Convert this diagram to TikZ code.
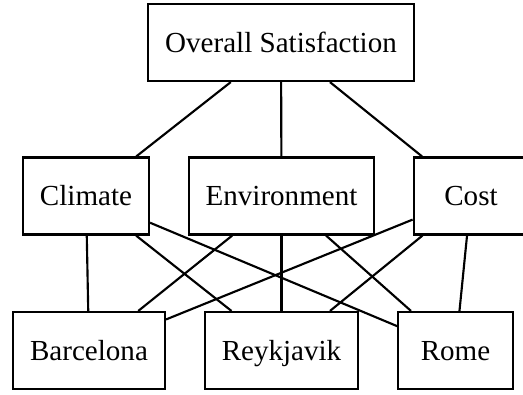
\documentclass[tikz,border=0pt]{standalone}
\usepackage{fontspec}
\setmainfont{Liberation Serif}
\begin{document}
\begin{tikzpicture}[x=0.75pt,y=-0.75pt,
  box/.style={draw,line width=1.6pt,minimum height=57.75pt,minimum width=86pt,
    inner xsep=12.75pt,text height=14.4pt,text depth=0pt,
    font=\fontsize{21.8}{26}\selectfont},
  link/.style={line width=1.6pt}]
 \useasboundingbox (0,0) rectangle (523,394);
 % goal
 \node[box] (overall) at (281,42.5) {Overall Satisfaction};
 % criteria
 \node[box] (climate) at (86,196) {Climate};
 \node[box] (environment) at (281.5,196) {Environment};
 \node[box] (cost) at (471,196) {Cost};
 % alternatives
 \node[box] (barcelona) at (89,350.5) {Barcelona};
 \node[box] (reykjavik) at (281.5,350.5) {Reykjavik};
 \node[box] (rome) at (455.5,350.5) {Rome};
 \draw[link] (overall) -- (climate);
 \draw[link] (overall) -- (environment);
 \draw[link] (overall) -- (cost);
 \draw[link] (climate) -- (barcelona);
 \draw[link] (climate) -- (reykjavik);
 \draw[link] (climate) -- (rome);
 \draw[link] (environment) -- (barcelona);
 \draw[link] (environment) -- (reykjavik);
 \draw[link] (environment) -- (rome);
 \draw[link] (cost) -- (barcelona);
 \draw[link] (cost) -- (reykjavik);
 \draw[link] (cost) -- (rome);
\end{tikzpicture}
\end{document}
